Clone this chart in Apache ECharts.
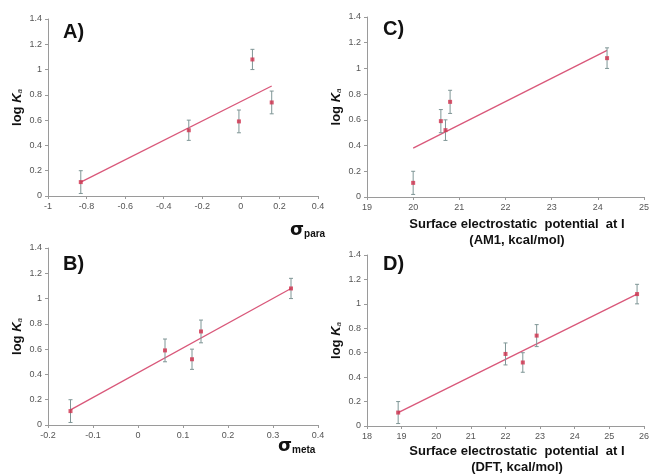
<!DOCTYPE html>
<html><head><meta charset="utf-8">
<script src="https://cdn.jsdelivr.net/npm/echarts@6/dist/echarts.min.js"></script>
<style>html,body{margin:0;padding:0;background:#fff}#c{width:652px;height:475px}</style>
</head><body><div id="c"></div>
<script>
// log Ka values (shared by all panels)
const logKa = [0.11, 0.52, 0.59, 1.08, 0.74];
const errKa = [0.09, 0.08, 0.09, 0.08, 0.09];
// x-values for each panel (same compound order as logKa)
const sigmaPara = [-0.83, -0.27, -0.01, 0.06, 0.16];
const sigmaMeta = [-0.15, 0.12, 0.06, 0.34, 0.14];
const espAM1 = [20.0, 20.7, 20.6, 24.2, 20.8];
const espDFT = [18.9, 22.5, 22.0, 25.8, 22.9];
// fitted trend lines [x, y] endpoints
const fitA = [[-0.83, 0.11], [0.16, 0.87]];
const fitB = [[-0.15, 0.12], [0.34, 1.08]];
const fitC = [[20.0, 0.38], [24.2, 1.14]];
const fitD = [[18.9, 0.11], [25.8, 1.08]];
// axis ranges
const xRanges = {A: [-1, 0.4, 0.2], B: [-0.2, 0.4, 0.1], C: [19, 25, 1], D: [18, 26, 1]};
const yRange = [0, 1.4, 0.2];
const panelLabels = ['A)', 'B)', 'C)', 'D)'];

const chart = echarts.init(document.getElementById('c'), null, {renderer: 'canvas'});
const grids = [
  {left: 48, top: 19, width: 270, height: 177},
  {left: 48, top: 248, width: 270, height: 177},
  {left: 367, top: 17, width: 278, height: 180},
  {left: 367, top: 255, width: 281, height: 171}
];
const keys = ['A', 'B', 'C', 'D'];
const xs = [sigmaPara, sigmaMeta, espAM1, espDFT];
const fits = [fitA, fitB, fitC, fitD];
const axisCol = '#9a9a9a', labCol = '#555';
const xAxes = [], yAxes = [], series = [];
keys.forEach((k, i) => {
  const r = xRanges[k];
  xAxes.push({gridIndex: i, type: 'value', min: r[0], max: r[1], interval: r[2],
    axisLine: {onZero: false, lineStyle: {color: axisCol, width: 1}}, axisTick: {length: 3, lineStyle: {color: axisCol}},
    splitLine: {show: false}, axisLabel: {color: labCol, fontSize: 9, fontFamily: 'Liberation Sans, Arial', margin: 6}});
  yAxes.push({gridIndex: i, type: 'value', min: yRange[0], max: yRange[1], interval: yRange[2],
    axisLine: {show: true, onZero: false, lineStyle: {color: axisCol, width: 1}}, axisTick: {show: true, length: 3, lineStyle: {color: axisCol}},
    splitLine: {show: false}, axisLabel: {color: labCol, fontSize: 9, fontFamily: 'Liberation Sans, Arial', margin: 6},
    name: '{b|log }{i|K}{s|a}', nameLocation: 'middle', nameRotate: 90, nameGap: 24,
    nameTextStyle: {rich: {
      b: {fontSize: 13, fontWeight: 'bold', fontFamily: 'Liberation Sans, Arial', color: '#111'},
      i: {fontSize: 13, fontWeight: 'bold', fontStyle: 'italic', fontFamily: 'Liberation Sans, Arial', color: '#111'},
      s: {fontSize: 8, fontStyle: 'italic', fontFamily: 'Liberation Sans, Arial', color: '#111', verticalAlign: 'bottom', padding: [6, 0, 0, 0]}
    }}});
  const pts = xs[i].map((x, j) => [x, logKa[j], errKa[j]]);
  series.push({type: 'line', xAxisIndex: i, yAxisIndex: i, data: fits[i], symbol: 'none',
    lineStyle: {color: '#d9587a', width: 1.3}, silent: true, z: 2});
  series.push({type: 'custom', xAxisIndex: i, yAxisIndex: i, data: pts, z: 3,
    renderItem: function (params, api) {
      const x = api.value(0), y = api.value(1), e = api.value(2);
      const top = api.coord([x, y + e]), bot = api.coord([x, y - e]);
      const st = {stroke: '#7f9696', lineWidth: 1};
      return {type: 'group', children: [
        {type: 'line', shape: {x1: top[0], y1: top[1], x2: bot[0], y2: bot[1]}, style: st},
        {type: 'line', shape: {x1: top[0] - 2, y1: top[1], x2: top[0] + 2, y2: top[1]}, style: st},
        {type: 'line', shape: {x1: bot[0] - 2, y1: bot[1], x2: bot[0] + 2, y2: bot[1]}, style: st}
      ]};
    }});
  series.push({type: 'scatter', xAxisIndex: i, yAxisIndex: i, data: pts.map(p => [p[0], p[1]]),
    symbol: 'rect', symbolSize: 4, itemStyle: {color: '#d0304c'}, z: 4});
});

const bold = {fontFamily: 'Liberation Sans, Arial', fontWeight: 'bold', fill: '#111'};
const graphic = [
  {type: 'text', left: 63, top: 22, style: Object.assign({text: 'A)', fontSize: 20}, bold)},
  {type: 'text', left: 63, top: 254, style: Object.assign({text: 'B)', fontSize: 20}, bold)},
  {type: 'text', left: 383, top: 19, style: Object.assign({text: 'C)', fontSize: 20}, bold)},
  {type: 'text', left: 383, top: 254, style: Object.assign({text: 'D)', fontSize: 20}, bold)},
  {type: 'text', left: 290, top: 221, style: {text: '{g|σ}{s|para}', rich: {
    g: {fontSize: 18, fontWeight: 'bold', fontFamily: 'DejaVu Sans', fill: '#111'},
    s: {fontSize: 10, fontWeight: 'bold', fontFamily: 'Liberation Sans, Arial', fill: '#111', padding: [8, 0, 0, 0]}}}},
  {type: 'text', left: 278, top: 437, style: {text: '{g|σ}{s|meta}', rich: {
    g: {fontSize: 18, fontWeight: 'bold', fontFamily: 'DejaVu Sans', fill: '#111'},
    s: {fontSize: 10, fontWeight: 'bold', fontFamily: 'Liberation Sans, Arial', fill: '#111', padding: [8, 0, 0, 0]}}}},
  {type: 'text', x: 517, y: 216, style: Object.assign({text: 'Surface electrostatic  potential  at I\n(AM1, kcal/mol)', fontSize: 13, align: 'center', lineHeight: 16}, bold)},
  {type: 'text', x: 517, y: 443, style: Object.assign({text: 'Surface electrostatic  potential  at I\n(DFT, kcal/mol)', fontSize: 13, align: 'center', lineHeight: 16}, bold)}
];

chart.setOption({animation: false, grid: grids, xAxis: xAxes, yAxis: yAxes, series: series, graphic: graphic});
</script></body></html>
